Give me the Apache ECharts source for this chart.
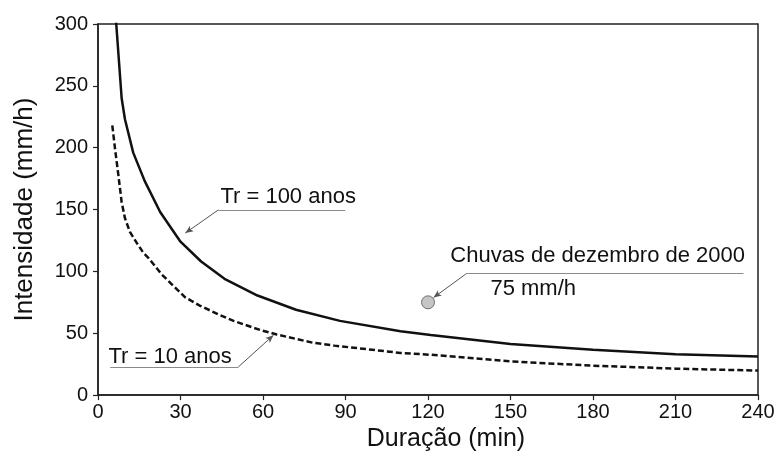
<!DOCTYPE html>
<html>
<head>
<meta charset="utf-8">
<script src="https://cdn.jsdelivr.net/npm/echarts@6/dist/echarts.min.js"></script>
<style>
html,body{margin:0;padding:0;background:#fff;overflow:hidden;}
#chart{width:780px;height:457px;}
</style>
</head>
<body>
<div id="chart"></div>
<script>
// Tr = 100 anos (solid)
const durTr100 = [5, 8.6, 9.8, 12.8, 17, 22.6, 30, 37.5, 46, 58, 72, 88, 110, 121, 150, 180, 210, 240];
const intTr100 = [350, 240, 223, 196, 173, 148, 124, 108, 94, 80.5, 69, 60, 51.6, 48.6, 41.4, 36.6, 33, 31.2];
// Tr = 10 anos (dashed)
const durTr10 = [5.2, 6.2, 7.4, 8.6, 9.8, 11.6, 14.1, 16.5, 18.3, 23.2, 31.7, 37, 44.4, 49.3, 59, 65, 78, 86, 110, 121, 150, 180, 210, 240];
const intTr10 = [218, 199, 178, 156, 143, 132, 123, 115, 111, 97.5, 79, 72.4, 64.6, 60, 52.6, 49, 42.4, 40, 34.1, 32.6, 27.2, 23.8, 21.4, 19.8];
// Chuvas de dezembro de 2000
const eventDur = [120];
const eventInt = [75];
// axes
const xTicks = [0, 30, 60, 90, 120, 150, 180, 210, 240];
const yTicks = [0, 50, 100, 150, 200, 250, 300];

const zip = (a, b) => a.map((v, i) => [v, b[i]]);

// annotations (in data coordinates)
const annotations = [
  { text: 'Tr = 100 anos', textAt: [44.5, 160], line: [[43.75, 149.7], [89.9, 149.7]], arrowTo: [31.75, 131] },
  { text: 'Tr = 10 anos', textAt: [3.8, 30.8], line: [[4.45, 22.7], [51, 22.7]], arrowFromEnd: true, arrowTo: [63.8, 48.4] },
  { text: 'Chuvas de dezembro de 2000', textAt: [128.1, 112.5], line: [[134, 98.3], [234.7, 98.3]], arrowTo: [122, 78.8] },
  { text: '75 mm/h', textAt: [142.7, 85.5] }
];

const FONT = '"Liberation Sans", Arial, sans-serif';
const chart = echarts.init(document.getElementById('chart'), null, { renderer: 'canvas', width: 780, height: 457 });

const markLines = [];
annotations.forEach(a => {
  if (!a.line) return;
  markLines.push([
    { coord: a.line[0], symbol: 'none', lineStyle: { color: '#8a8a8a', width: 1, type: 'solid' } },
    { coord: a.line[1], symbol: 'none' }
  ]);
  const start = a.arrowFromEnd ? a.line[1] : a.line[0];
  markLines.push([
    { coord: start, symbol: 'none', lineStyle: { color: '#555', width: 1, type: 'solid' } },
    { coord: a.arrowTo, symbol: 'arrow', symbolSize: [5, 8] }
  ]);
});

chart.setOption({
  animation: false,
  backgroundColor: '#fff',
  grid: { left: 98, right: 22, top: 24, bottom: 59, show: true, borderColor: '#222', borderWidth: 1.5, backgroundColor: 'transparent' },
  xAxis: {
    type: 'value', min: xTicks[0], max: xTicks[xTicks.length - 1], interval: 30,
    name: 'Duração (min)', nameLocation: 'middle', nameGap: 31,
    nameTextStyle: { fontFamily: FONT, fontSize: 25, color: '#111', padding: [0, 0, 0, 36] },
    axisLine: { show: true, lineStyle: { color: '#222', width: 1.5 } },
    axisTick: { show: true, length: 5, lineStyle: { color: '#222', width: 1.2 } },
    axisLabel: { fontFamily: FONT, fontSize: 20, color: '#111', margin: 7 },
    splitLine: { show: false }
  },
  yAxis: {
    type: 'value', min: yTicks[0], max: yTicks[yTicks.length - 1], interval: 50,
    name: 'Intensidade (mm/h)', nameLocation: 'middle', nameGap: 60,
    nameTextStyle: { fontFamily: FONT, fontSize: 26, color: '#111' },
    axisLine: { show: true, lineStyle: { color: '#222', width: 1.5 } },
    axisTick: { show: true, length: 5, lineStyle: { color: '#222', width: 1.2 } },
    axisLabel: { fontFamily: FONT, fontSize: 20, color: '#111', margin: 10 },
    splitLine: { show: false }
  },
  series: [
    {
      name: 'Tr = 100 anos', type: 'line', data: zip(durTr100, intTr100),
      showSymbol: false, smooth: false, clip: true,
      lineStyle: { color: '#111', width: 2.5 }
    },
    {
      name: 'Tr = 10 anos', type: 'line', data: zip(durTr10, intTr10),
      showSymbol: false, smooth: false, clip: true,
      lineStyle: { color: '#111', width: 2.5, type: [6, 3] }
    },
    {
      name: 'Chuvas de dezembro de 2000', type: 'scatter', data: zip(eventDur, eventInt),
      symbolSize: 13, itemStyle: { color: '#b4b6b8', borderColor: '#555', borderWidth: 1 },
      markLine: { silent: true, animation: false, label: { show: false }, data: markLines }
    }
  ]
});

function placeTexts() {
  const g = annotations.map(a => {
    const p = chart.convertToPixel({ gridIndex: 0 }, a.textAt);
    return {
      type: 'text', x: p[0], y: p[1], silent: true,
      style: { text: a.text, font: '22px ' + FONT, fill: '#111', align: 'left', verticalAlign: 'middle' }
    };
  });
  chart.setOption({ graphic: g });
}
placeTexts();
</script>
</body>
</html>
